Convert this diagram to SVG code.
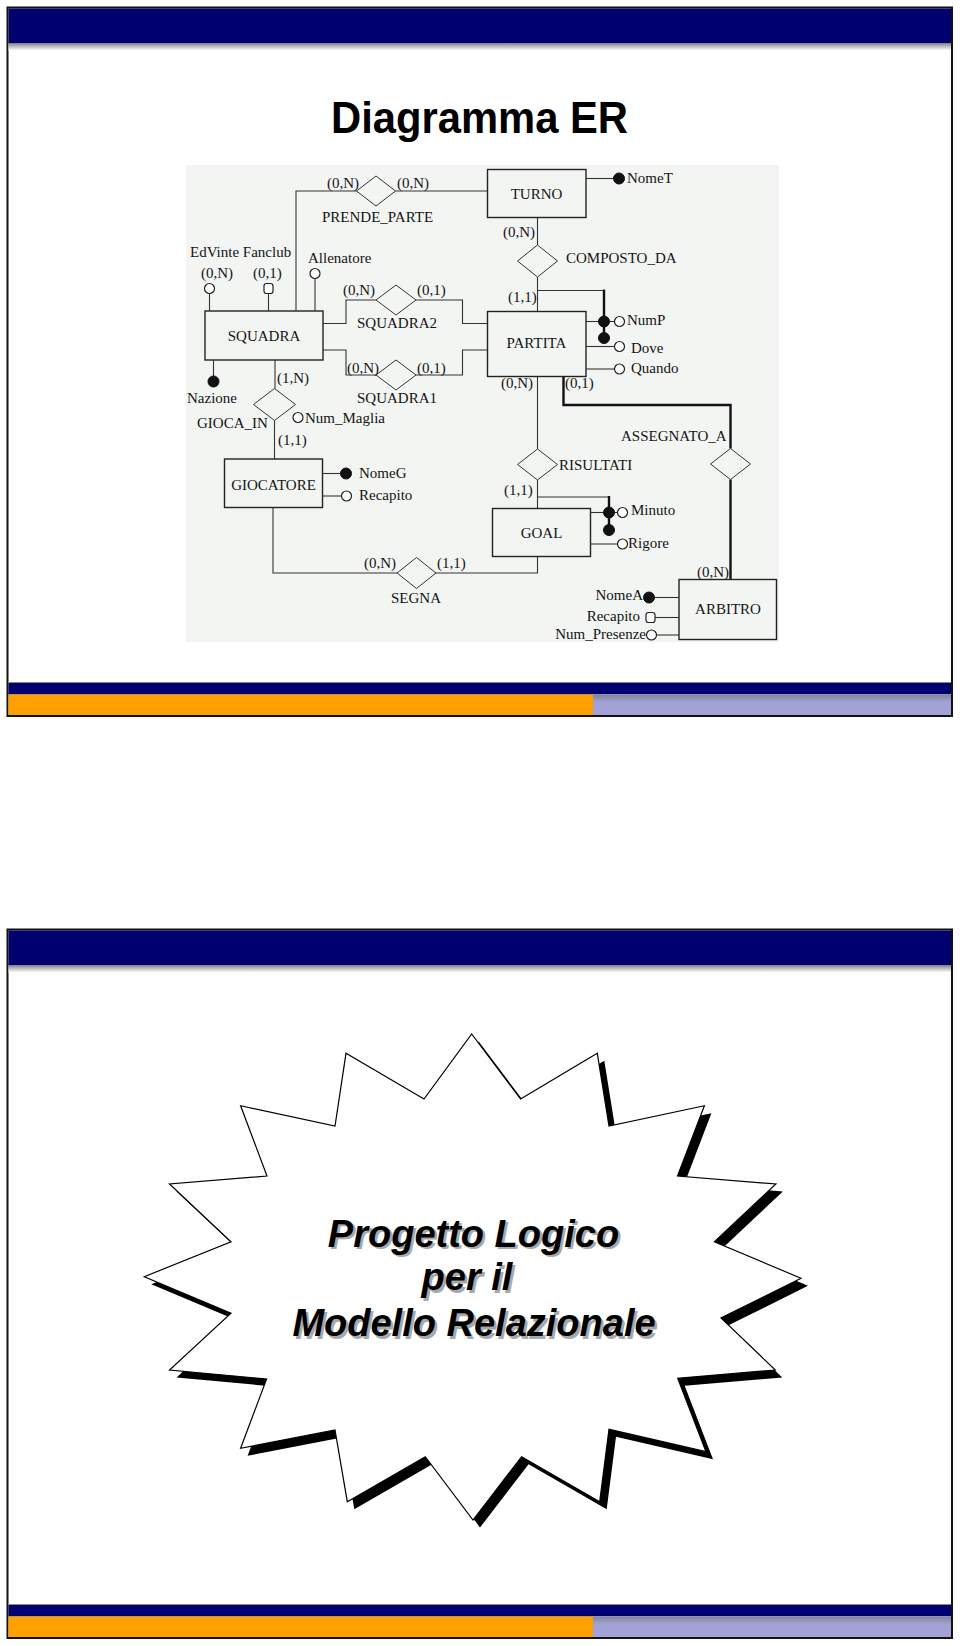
<svg xmlns="http://www.w3.org/2000/svg" xmlns:xlink="http://www.w3.org/1999/xlink" width="960" height="1646" viewBox="0 0 960 1646">
<style>
.t{font-family:"Liberation Serif","Times New Roman",serif;font-size:15px;fill:#141414}
.c{text-anchor:middle}
.e{text-anchor:end}
.ent{fill:none;stroke:#222;stroke-width:1.4}
.rel{fill:none;stroke:#333;stroke-width:1}
.ln{fill:none;stroke:#333;stroke-width:1.1}
.thk{fill:none;stroke:#111;stroke-width:2.4}
.ho{fill:#fff;stroke:#222;stroke-width:1.2}
.fi{fill:#111;stroke:#111;stroke-width:1}
.big{font-family:"Liberation Sans",Arial,sans-serif;font-weight:bold;font-style:italic;font-size:38px;text-anchor:middle}
</style>
<defs>
<linearGradient id="sh" x1="0" y1="0" x2="0" y2="1">
<stop offset="0" stop-color="#8a8a8a"/><stop offset="1" stop-color="#ffffff"/>
</linearGradient>
<linearGradient id="lav" x1="0" y1="0" x2="0" y2="1">
<stop offset="0" stop-color="#848496"/><stop offset="1" stop-color="#a2a2d6"/>
</linearGradient>
<g id="frame">
<rect x="7.5" y="7.5" width="944.5" height="708.5" fill="#fff" stroke="#111" stroke-width="2"/>
<rect x="8.5" y="8.5" width="942.5" height="35" fill="#00006e"/>
<rect x="8.5" y="43.5" width="942.5" height="7" fill="url(#sh)"/>
<rect x="8.5" y="682" width="942.5" height="1" fill="#888"/>
<rect x="8.5" y="683" width="942.5" height="11.5" fill="#000070"/>
<rect x="8.5" y="694.5" width="584.5" height="20.5" fill="#ffa000"/>
<rect x="593" y="694.5" width="358" height="20.5" fill="#a2a2d6"/>
<rect x="593" y="695" width="358" height="7" fill="url(#lav)"/>
</g>
</defs>

<use xlink:href="#frame" href="#frame"/>
<use xlink:href="#frame" href="#frame" transform="translate(0,922)"/>

<text x="479.5" y="133" font-family="Liberation Sans,Arial,sans-serif" font-weight="bold" font-size="45" text-anchor="middle" textLength="297" lengthAdjust="spacingAndGlyphs" fill="#000">Diagramma ER</text>

<rect x="186" y="165" width="593" height="477" fill="#f3f5f3"/>

<g id="connectors">
<polyline class="ln" points="296,311 296,191 356.5,191"/>
<line class="ln" x1="395.5" y1="191" x2="487.5" y2="191"/>
<polyline class="ln" points="323,323.5 346,323.5 346,300 376,300"/>
<polyline class="ln" points="416,300 462.5,300 462.5,323.5 487.5,323.5"/>
<polyline class="ln" points="323,350 346,350 346,375 376,375"/>
<polyline class="ln" points="416,375 462.5,375 462.5,350 487.5,350"/>
<line class="ln" x1="275" y1="360" x2="275" y2="388.5"/>
<line class="ln" x1="274.5" y1="420.5" x2="274.5" y2="459"/>
<line class="ln" x1="537.5" y1="217.5" x2="537.5" y2="245"/>
<line class="ln" x1="537.5" y1="277" x2="537.5" y2="311.5"/>
<polyline class="ln" points="537.5,290.5 604,290.5"/>
<line class="thk" x1="604" y1="289.5" x2="604" y2="338"/>
<line class="ln" x1="537.5" y1="376.5" x2="537.5" y2="449"/>
<line class="ln" x1="537.5" y1="480" x2="537.5" y2="508.5"/>
<polyline class="ln" points="537.5,497 609,497"/>
<line class="thk" x1="609" y1="496" x2="609" y2="530"/>
<polyline class="thk" points="563.5,376.5 563.5,405 730.5,405 730.5,448.5"/>
<line class="thk" x1="730.5" y1="479.5" x2="730.5" y2="579.5"/>
<polyline class="ln" points="273,507.5 273,573 397,573"/>
<polyline class="ln" points="436,573 537.5,573 537.5,556.5"/>
</g>

<g id="SQUADRA">
<rect class="ent" x="205" y="311" width="118" height="49"/>
<text class="t c" x="264" y="341">SQUADRA</text>
</g>
<g id="TURNO">
<rect class="ent" x="487.5" y="169.5" width="98.5" height="48"/>
<text class="t c" x="536.5" y="199">TURNO</text>
</g>
<g id="PARTITA">
<rect class="ent" x="487.5" y="311.5" width="98.5" height="65"/>
<text class="t c" x="536.5" y="348">PARTITA</text>
</g>
<g id="GIOCATORE">
<rect class="ent" x="224.5" y="459" width="98" height="48.5"/>
<text class="t c" x="273.5" y="490">GIOCATORE</text>
</g>
<g id="GOAL">
<rect class="ent" x="492.5" y="508.5" width="98" height="48"/>
<text class="t c" x="541.5" y="538">GOAL</text>
</g>
<g id="ARBITRO">
<rect class="ent" x="679" y="579.5" width="97.5" height="60"/>
<text class="t c" x="728" y="613.5">ARBITRO</text>
</g>

<g id="PRENDE_PARTE">
<polygon class="rel" points="376,176 395.5,191 376,206 356.5,191"/>
<text class="t" x="327" y="188">(0,N)</text>
<text class="t" x="397" y="188">(0,N)</text>
<text class="t" x="322" y="221.5">PRENDE_PARTE</text>
</g>
<g id="SQUADRA2">
<polygon class="rel" points="396,285 416,300 396,315 376,300"/>
<text class="t" x="343" y="295">(0,N)</text>
<text class="t" x="417" y="295">(0,1)</text>
<text class="t" x="357" y="328">SQUADRA2</text>
</g>
<g id="SQUADRA1">
<polygon class="rel" points="396,360 416,375 396,390 376,375"/>
<text class="t" x="347" y="373">(0,N)</text>
<text class="t" x="417" y="373">(0,1)</text>
<text class="t" x="357" y="402.5">SQUADRA1</text>
</g>
<g id="GIOCA_IN">
<polygon class="rel" points="274.5,388.5 295.5,404.5 274.5,420.5 253.5,404.5"/>
<text class="t" x="277" y="383">(1,N)</text>
<text class="t" x="197" y="428">GIOCA_IN</text>
<text class="t" x="278" y="445">(1,1)</text>
</g>
<g id="COMPOSTO_DA">
<polygon class="rel" points="537.5,245 557.5,261 537.5,277 517.5,261"/>
<text class="t" x="503" y="237">(0,N)</text>
<text class="t" x="566" y="263">COMPOSTO_DA</text>
<text class="t" x="508" y="301.5">(1,1)</text>
</g>
<g id="RISULTATI">
<polygon class="rel" points="537.5,449 557.5,464.5 537.5,480 517.5,464.5"/>
<text class="t" x="501" y="388">(0,N)</text>
<text class="t" x="559" y="470">RISULTATI</text>
<text class="t" x="504" y="495">(1,1)</text>
</g>
<g id="ASSEGNATO_A">
<polygon class="rel" points="730.5,448.5 750.5,464 730.5,479.5 710.5,464"/>
<text class="t" x="565" y="388">(0,1)</text>
<text class="t" x="621" y="441">ASSEGNATO_A</text>
<text class="t" x="697" y="576.5">(0,N)</text>
</g>
<g id="SEGNA">
<polygon class="rel" points="416.5,557.5 436,573 416.5,588.5 397,573"/>
<text class="t" x="364" y="568">(0,N)</text>
<text class="t" x="437" y="568">(1,1)</text>
<text class="t" x="391" y="603">SEGNA</text>
</g>

<g id="attr-squadra">
<line class="ln" x1="209.5" y1="311" x2="209.5" y2="293"/>
<circle class="ho" cx="209.5" cy="288.5" r="5"/>
<line class="ln" x1="268.5" y1="311" x2="268.5" y2="293"/>
<rect class="ho" x="264" y="283.5" width="9" height="10" rx="2.5"/>
<line class="ln" x1="315" y1="311" x2="315" y2="278"/>
<circle class="ho" cx="315" cy="273.5" r="5"/>
<line class="ln" x1="213.5" y1="360" x2="213.5" y2="377"/>
<circle class="fi" cx="213.5" cy="381.5" r="5.5"/>
<text class="t" x="190" y="256.5">EdVinte Fanclub</text>
<text class="t" x="201" y="278">(0,N)</text>
<text class="t" x="253" y="278">(0,1)</text>
<text class="t" x="308" y="263">Allenatore</text>
<text class="t" x="187" y="402.5">Nazione</text>
</g>
<g id="attr-gioca">
<circle class="ho" cx="298" cy="417.5" r="5"/>
<text class="t" x="305" y="422.5">Num_Maglia</text>
</g>
<g id="attr-giocatore">
<line class="ln" x1="322.5" y1="473.5" x2="341" y2="473.5"/>
<circle class="fi" cx="346" cy="473.5" r="5.5"/>
<line class="ln" x1="322.5" y1="496" x2="342" y2="496"/>
<circle class="ho" cx="346.5" cy="496" r="5"/>
<text class="t" x="359" y="478">NomeG</text>
<text class="t" x="359" y="500">Recapito</text>
</g>
<g id="attr-turno">
<line class="ln" x1="586" y1="178.5" x2="614" y2="178.5"/>
<circle class="fi" cx="619" cy="178.5" r="5.5"/>
<text class="t" x="627" y="182.5">NomeT</text>
</g>
<g id="attr-partita">
<line class="ln" x1="586" y1="321.5" x2="615" y2="321.5"/>
<circle class="ho" cx="619.5" cy="321.5" r="5"/>
<circle class="fi" cx="604" cy="321.5" r="5.5"/>
<circle class="fi" cx="604" cy="338" r="5.5"/>
<line class="ln" x1="586" y1="346.5" x2="615" y2="346.5"/>
<circle class="ho" cx="619.5" cy="346.5" r="5"/>
<line class="ln" x1="586" y1="369" x2="615" y2="369"/>
<circle class="ho" cx="619.5" cy="369" r="5"/>
<text class="t" x="627" y="325">NumP</text>
<text class="t" x="631" y="353">Dove</text>
<text class="t" x="631" y="373">Quando</text>
</g>
<g id="attr-goal">
<line class="ln" x1="590.5" y1="512.5" x2="618" y2="512.5"/>
<circle class="ho" cx="622.5" cy="512.5" r="5"/>
<circle class="fi" cx="609" cy="512.5" r="5.5"/>
<circle class="fi" cx="609" cy="530" r="5.5"/>
<line class="ln" x1="590.5" y1="544" x2="618" y2="544"/>
<circle class="ho" cx="622.5" cy="544" r="5"/>
<text class="t" x="631" y="515">Minuto</text>
<text class="t" x="628" y="548">Rigore</text>
</g>
<g id="attr-arbitro">
<line class="ln" x1="679" y1="597.5" x2="654" y2="597.5"/>
<circle class="fi" cx="649" cy="597.5" r="5.5"/>
<line class="ln" x1="679" y1="617.5" x2="655" y2="617.5"/>
<rect class="ho" x="646" y="612.5" width="9" height="10" rx="2.5"/>
<line class="ln" x1="679" y1="635" x2="656" y2="635"/>
<circle class="ho" cx="651.5" cy="635" r="5"/>
<text class="t e" x="643" y="600">NomeA</text>
<text class="t e" x="640" y="620.5">Recapito</text>
<text class="t e" x="646" y="639">Num_Presenze</text>
</g>

<g id="starburst">
<polygon transform="translate(7,7.5)" fill="#000" points="471.7,1034 520.6,1099 597.3,1053.3 609,1126 704.4,1105.7 677.5,1176 775.9,1184 714.4,1241.7 801,1278.3 721,1318 775.3,1370 677.7,1378.3 706,1451.7 609,1429.3 599.7,1501.7 521.6,1456.7 473,1520 425.3,1456.7 347.3,1501.7 335,1430 240.6,1448.3 266.6,1379 169.5,1370 231,1313.3 144.3,1276.7 231,1241.7 169.5,1184 267,1176 240.6,1105.7 335,1126 346,1053.3 424,1099"/>
<polygon fill="#fff" stroke="#000" stroke-width="1.2" points="471.7,1034 520.6,1099 597.3,1053.3 609,1126 704.4,1105.7 677.5,1176 775.9,1184 714.4,1241.7 801,1278.3 721,1318 775.3,1370 677.7,1378.3 706,1451.7 609,1429.3 599.7,1501.7 521.6,1456.7 473,1520 425.3,1456.7 347.3,1501.7 335,1430 240.6,1448.3 266.6,1379 169.5,1370 231,1313.3 144.3,1276.7 231,1241.7 169.5,1184 267,1176 240.6,1105.7 335,1126 346,1053.3 424,1099"/>
<g fill="#a8a8a8" transform="translate(2.5,2.5)">
<text class="big" x="473.5" y="1246.5">Progetto Logico</text>
<text class="big" x="467" y="1290">per il</text>
<text class="big" x="474" y="1336">Modello Relazionale</text>
</g>
<g fill="#000">
<text class="big" x="473.5" y="1246.5">Progetto Logico</text>
<text class="big" x="467" y="1290">per il</text>
<text class="big" x="474" y="1336">Modello Relazionale</text>
</g>
</g>
</svg>
